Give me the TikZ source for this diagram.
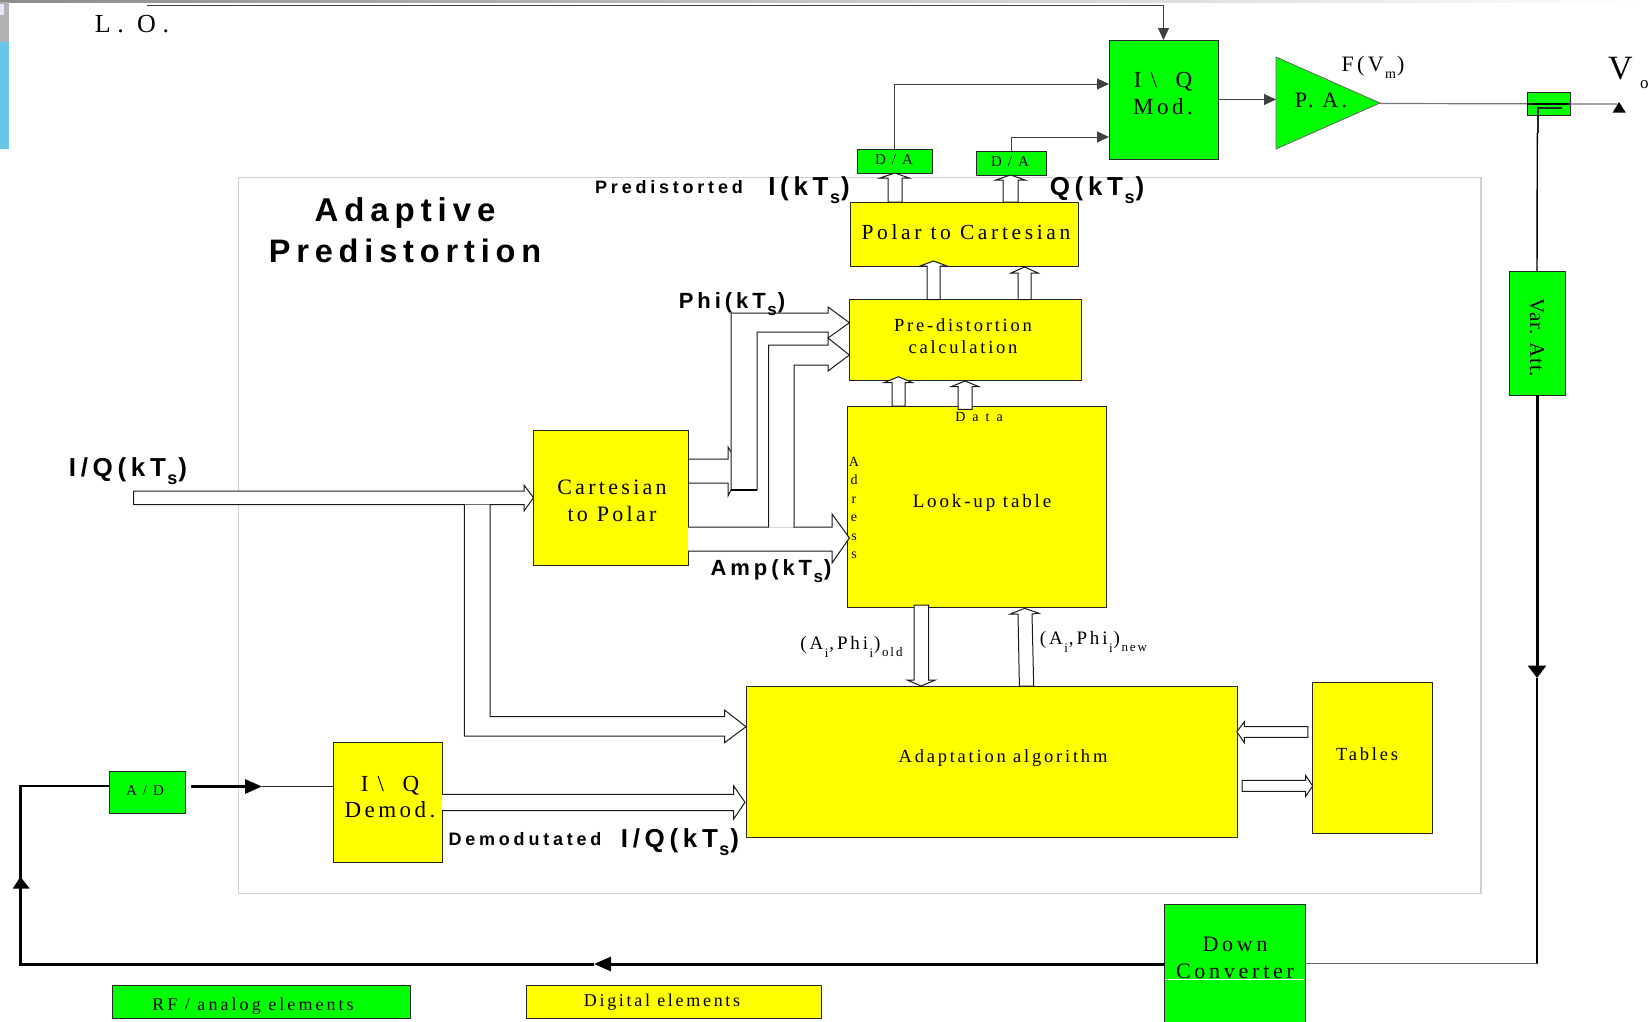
\documentclass[tikz,border=0pt]{standalone}
\usepackage{fontspec}
\usetikzlibrary{arrows.meta,calc}
\setmainfont{Liberation Serif}
\newfontfamily\ser[LetterSpace=15]{Liberation Serif}
\newfontfamily\serp[LetterSpace=17]{Liberation Serif}
\newfontfamily\sern[LetterSpace=4]{Liberation Serif}
\newfontfamily\serl[LetterSpace=26]{Liberation Serif}
\newfontfamily\serw[LetterSpace=50]{Liberation Serif}
\newfontfamily\sbf[LetterSpace=18,BoldFont={Liberation Sans Bold}]{Liberation Sans}
\newfontfamily\sbfw[LetterSpace=18,BoldFont={Liberation Sans Bold}]{Liberation Sans}
\newfontfamily\sbfd[LetterSpace=21,BoldFont={Liberation Sans Bold}]{Liberation Sans}
\definecolor{fgreen}{HTML}{00FF00}
\definecolor{fyellow}{HTML}{FFFF00}
\definecolor{frame}{HTML}{D0D0D0}
\definecolor{skyb}{HTML}{66C7E8}
\newcommand\fs[1]{\fontsize{#1}{#1}\selectfont}
\newcommand\bx[6]{\node[#6,minimum width={(#4-#2)*1pt},minimum height={(#5-#3)*1pt}] (#1) at ({(#2+#4)/2},{(#3+#5)/2}) {};}
\newcommand\dn[3]{\hspace{1.5pt}\raisebox{-#1pt}{\fs{#2}#3}\hspace{1pt}}
\tikzset{
 greenbox/.style={draw=black!85,fill=fgreen,line width=1pt,inner sep=0pt,outer sep=0pt},
 yellowbox/.style={draw=black!85,fill=fyellow,line width=1pt,inner sep=0pt,outer sep=0pt},
 bus/.style={draw=black!90,fill=white,line width=1pt,line join=miter},
 wire/.style={draw=black!75,line width=1pt},
 thickwire/.style={draw=black,line width=3pt},
 tip/.style={-{Triangle[length=12pt,width=11pt]}},
 bigtipd/.style={-{Triangle[length=12.5pt,width=18pt]}},
 bigtiph/.style={-{Triangle[length=17pt,width=14pt]}},
 lbl/.style={inner sep=0pt,outer sep=0pt,align=center,text=black},
 lblser/.style={lbl,font=\ser},
 lblbold/.style={lbl,font=\sbf\bfseries},
}
\begin{document}
\begin{tikzpicture}[x=1pt,y=-1pt]
\useasboundingbox (0,0) rectangle (1648,1021);
% screenshot remnants at the top-left
\fill[left color=gray!90,right color=white] (0,0) rectangle (1648,2);
\fill[black!30] (0,2) rectangle (9,42);
\fill[blue!10] (0,4) rectangle (4,15);
\fill[skyb] (0,42) rectangle (9,149);
% frame
\draw[frame,line width=1.2pt] (238.6,177.6) rectangle (1481,893.4);
% boxes
\bx{mod}{1109}{40}{1218}{159}{greenbox}
\bx{da1}{857}{149}{932.5}{173}{greenbox}
\bx{da2}{976}{151}{1046}{175}{greenbox}
\bx{coup}{1527}{92}{1570}{115}{greenbox}
\bx{var}{1509}{271}{1565}{395}{greenbox}
\bx{ad}{109.7}{771.7}{185}{813}{greenbox}
\bx{down}{1164.5}{904}{1305}{1023}{greenbox}
\bx{rf}{112}{985}{410}{1018.7}{greenbox}
\bx{p2c}{850}{202}{1078.5}{266}{yellowbox}
\bx{pre}{849.4}{299}{1081}{380.7}{yellowbox}
\bx{lut}{847}{406}{1106.5}{607.5}{yellowbox}
\bx{c2p}{533.5}{430.7}{688}{565}{yellowbox}
\bx{adapt}{746}{686}{1237.7}{837.3}{yellowbox}
\bx{tables}{1312}{682.7}{1432}{833.3}{yellowbox}
\bx{demod}{333}{742.7}{442}{862.3}{yellowbox}
\bx{dig}{526}{985}{821}{1018.7}{yellowbox}
\draw[white,line width=.8pt] (1165.2,979.3) -- (1304.3,979.3);
% P.A. triangle
\draw[draw=black!60,fill=fgreen,line width=.8pt] (1276,57) -- (1276,149) -- (1380,103) -- cycle;
\coordinate (paIn) at (1276,99.5);
\coordinate (paOut) at (1380,103.5);
\coordinate (modOut) at (1218,99.5);
\coordinate (modI) at (1109,84);
\coordinate (modQ) at (1109,137);
\coordinate (loStart) at (147,5);
\coordinate (outEnd) at (1617,104);
\coordinate (coupR) at (1562,108.3);
\coordinate (coupC) at (1537.5,108.3);
\coordinate (fbTip) at (1537,678);
\coordinate (fbBot) at (1537,963.5);
\coordinate (fbMid) at (594,964);
\coordinate (fbCorner) at (20.4,964);
\coordinate (adIn) at (20.4,786);
\coordinate (adUp) at (20.4,876.7);
\coordinate (demIn) at (262,786.5);
\coordinate (adOut) at (191,786.5);
% thin connectors
\draw[wire,tip] (loStart) -| (mod.north);
\draw[wire,tip] (da1.north) |- (modI);
\draw[wire,tip] (da2.north) |- (modQ);
\draw[wire,tip] (modOut) -- (paIn);
\draw[black!55,line width=1.2pt] (paOut) -- (outEnd);
\fill[black] (1612.7,112.5) -- (1625.7,112.5) -- (1619,102) -- cycle;
\draw[black,line width=1.8pt] (coup.west |- outEnd) -- (coup.east |- outEnd);
\draw[black!85,line width=2pt] (coupR) -- (coupC) -- ++(0,25);
\draw[black,line width=1.4pt] (1537.3,133) -- (var.north);
% feedback
\draw[thickwire,bigtipd] (var.south) -- (fbTip);
\draw[black,line width=2pt] (fbTip) -- (fbBot);
\draw[black!60,line width=1.2pt] (fbBot) -- (down.east |- fbBot);
\draw[thickwire,bigtiph] (down.west |- fbMid) -- (fbMid);
\draw[thickwire] (fbMid) -- (fbCorner) -- (adUp);
\fill[black] (12.8,888.5) -- (29.6,888.5) -- (20.4,876.7) -- cycle;
\draw[thickwire,line width=2.2pt,line join=miter] (adUp) -- (adIn) -- (ad.west |- adIn);
\draw[thickwire,bigtiph] (adOut) -- (demIn);
\draw[black!85,line width=1.6pt] (demIn) -- (demod.west |- demIn);
% hollow arrows
\draw[bus] (892,406) -- (892,382.7) -- (884,382.7) -- (898.4,376.7) -- (912.7,382.7) -- (905,382.7) -- (905,406) -- cycle;
\draw[bus] (958,409.3) -- (958,386.7) -- (951,386.7) -- (965,381) -- (979,386.7) -- (972,386.7) -- (972,409.3) -- cycle;
\draw[bus] (927,299.6) -- (927,266) -- (920,266) -- (933.6,261) -- (947,266) -- (940,266) -- (940,299.6) -- cycle;
\draw[bus] (1018,299.6) -- (1018,273) -- (1011,273) -- (1024.5,267) -- (1038,273) -- (1031,273) -- (1031,299.6) -- cycle;
\draw[bus] (888,202) -- (888,178) -- (880,178) -- (895,173) -- (909,178) -- (902,178) -- (902,202) -- cycle;
\draw[bus] (1003,202) -- (1003,180) -- (996,180) -- (1010.5,175) -- (1025,180) -- (1018,180) -- (1018,202) -- cycle;
% Phi bus
\draw[bus] (688,459) -- (728,459) -- (728,447) -- (731,452);
\draw[bus] (688,483) -- (728,483) -- (728,496) -- (731,490);
\draw[bus] (731,313) -- (828,313) -- (828,307) -- (849.4,322.7) -- (828,338) -- (828,332) -- (757,332) -- (757,490) -- (731,490) -- cycle;
\draw[black,line width=2pt] (731,490) -- (757,490);
% Amp bus with branch
\draw[bus] (688,527) -- (832,527) -- (832,514) -- (849.4,538) -- (832,563) -- (832,551) -- (688,551);
\draw[bus] (768.6,527) -- (768.6,345) -- (828,345) -- (828,338) -- (849.4,355) -- (828,371) -- (828,365) -- (794,365) -- (794,527);
\draw[black!15,line width=1pt] (769.2,527) -- (793.4,527);
% I/Q input bus
\draw[bus] (133.5,491) -- (524,491) -- (524,485) -- (533.5,497.7) -- (524,511) -- (524,504.7) -- (133.5,504.7) -- cycle;
\draw[bus] (490,504.7) -- (490,716.7) -- (724.5,716.7) -- (724.5,710) -- (746,726.7) -- (724.5,742.7) -- (724.5,736) -- (464.3,736) -- (464.3,504.7);
% Demod output
\draw[bus] (442,794.3) -- (733.7,794.3) -- (733.7,786) -- (745,802.3) -- (733.7,819) -- (733.7,810.7) -- (442,810.7);
% LUT <-> Adapt
\draw[bus] (914,605) -- (914,680) -- (907.3,680) -- (921,686) -- (935.4,680) -- (928.7,680) -- (928.7,605) -- cycle;
\draw[bus] (1019.4,686) -- (1018,614) -- (1010.4,614) -- (1024.7,608.3) -- (1039,613.3) -- (1032,614) -- (1033.7,686) -- cycle;
% Adapt <-> Tables
\draw[bus] (1307.8,726.7) -- (1244.4,726.7) -- (1244.4,721.7) -- (1236.8,731.7) -- (1244.4,742.7) -- (1244.4,737.3) -- (1307.8,737.3) -- cycle;
\draw[bus] (1242,780.3) -- (1305.5,780.3) -- (1305.5,775.3) -- (1312.7,786) -- (1305.5,796.7) -- (1305.5,791.3) -- (1242,791.3) -- cycle;
% texts in boxes
\node[lbl,font=\serl\fs{26}] (lo) at (132,24) {L. O.};
\node[lblser,font=\ser\fs{23}] (modT) at (1163,93.5) {I \textbackslash\ \ Q\\[3.5pt]Mod.};
\node[lblser,font=\ser\fs{22}] (paT) at (1321,100) {P. A.};
\node[lblser,font=\ser\fs{22}] (fvT) at (1373,67) {F(V\dn{7}{14}{m})};
\node[lbl,font=\fs{34},anchor=west] (vT) at (1608,69) {V};
\node[lbl,font=\fs{17},anchor=west] (voT) at (1640,85) {o};
\node[lblser,font=\ser\fs{15}] (da1T) at (894,160) {D / A};
\node[lblser,font=\ser\fs{15}] (da2T) at (1010,162) {D / A};
\node[lblser,font=\ser\fs{15}] (adT) at (145,791) {A / D};
\node[lblser,font=\serp\fs{21.5}] (p2cT) at (966,232) {Polar to Cartesian};
\node[lblser,font=\ser\fs{18.5}] (preT) at (963,336.5) {Pre-distortion\\[3.5pt]calculation};
\node[lblser,font=\ser\fs{19}] (lutT) at (982,502.5) {Look-up table};
\node[lblser,font=\ser\fs{22}] (c2pT) at (612,501) {Cartesian\\[4.5pt]to Polar};
\node[lblser,font=\ser\fs{18.5}] (adaptT) at (1003,758) {Adaptation algorithm};
\node[lblser,font=\ser\fs{18.5}] (tablesT) at (1367,754) {Tables};
\node[lblser,font=\ser\fs{23}] (demT) at (390,797) {I \textbackslash\ \ Q\\[3.5pt]Demod.};
\node[lblser,font=\serp\fs{22}] (downT) at (1235,958) {Down\\[5pt]Converter};
\node[lblser,font=\serp\fs{18}] (rfT) at (253,1006) {RF / analog elements};
\node[lblser,font=\ser\fs{18}] (digT) at (662,1002.5) {Digital elements};
\node[lblser,font=\sern\fs{21},rotate=-90] (varT) at (1537,338) {Var. Att.};
\node[lbl,font=\serw\fs{14}] (dataT) at (979,417) {Data};
\node[lbl,font=\fs{14}] (adr) at (854,508) {A\\[4.5pt]d\\[4.5pt]r\\[4.5pt]e\\[4.5pt]s\\[4.5pt]s};
\node[lblser,font=\ser\fs{19}] (oldT) at (852,647) {(A\dn{8}{13}{i},Phi\dn{8}{13}{i})\dn{7}{13}{old}};
\node[lblser,font=\ser\fs{19}] (newT) at (1094,642) {(A\dn{8}{13}{i},Phi\dn{8}{13}{i})\dn{7}{13}{new}};
% bold labels
\node[lbl,font=\sbfw\bfseries\fs{33}] (t1) at (405,213) {Adaptive};
\node[lbl,font=\sbfw\bfseries\fs{32.5}] (t2) at (405,251) {Predistortion};
\node[lbl,font=\sbfd\bfseries\fs{18}] (predT) at (669,187) {Predistorted};
\node[lblbold,font=\sbf\bfseries\fs{26}] (iT) at (809,190) {I(kT\dn{8}{18}{s})};
\node[lblbold,font=\sbf\bfseries\fs{26}] (qT) at (1097,190) {Q(kT\dn{8}{18}{s})};
\node[lbl,font=\sbfw\bfseries\fs{22}] (phiT) at (732,304) {Phi(kT\dn{7}{17}{s})};
\node[lbl,font=\sbfw\bfseries\fs{22}] (ampT) at (771,571) {Amp(kT\dn{7}{17}{s})};
\node[lblbold,font=\sbf\bfseries\fs{26}] (iqT) at (128,471) {I/Q(kT\dn{8}{18}{s})};
\node[lbl,font=\sbfd\bfseries\fs{18}] (demodT) at (525,839) {Demodutated};
\node[lblbold,font=\sbf\bfseries\fs{26}] (iq2T) at (680,842) {I/Q(kT\dn{8}{18}{s})};
\end{tikzpicture}
\end{document}
